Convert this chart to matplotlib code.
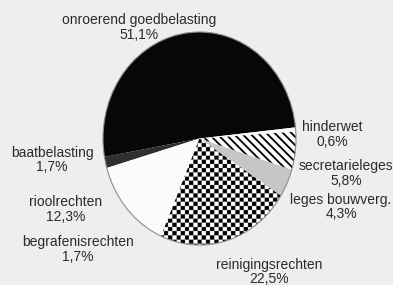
import numpy as np
import matplotlib
matplotlib.use("Agg")
import matplotlib.pyplot as plt
from matplotlib.patches import Circle

# ---- data ----
categories = ["onroerend goedbelasting", "baatbelasting", "rioolrechten",
              "begrafenisrechten", "reinigingsrechten", "leges bouwverg.",
              "secretarieleges", "hinderwet"]
values = [51.1, 1.7, 12.3, 1.7, 22.5, 4.3, 5.8, 0.6]

# ---- styling / layout ----
face_colors = ["#070707", "#2f2f2f", "#fbfbfb", "#fbfbfb", "#fbfbfb",
               "#c6c6c6", "#fbfbfb", "#fbfbfb"]
# label positions in pixels (x centre, y of name line, y of pct line)
label_pos = {
    "onroerend goedbelasting": (139, 20, 35),
    "baatbelasting": (52, 153, 167),
    "rioolrechten": (66, 202, 217),
    "begrafenisrechten": (78, 242, 257),
    "reinigingsrechten": (269, 265, 279),
    "leges bouwverg.": (341, 200, 214),
    "secretarieleges": (346, 166, 181),
    "hinderwet": (332, 127, 142),
}

plt.rcParams["font.family"] = ["Liberation Sans", "DejaVu Sans"]
plt.rcParams["hatch.linewidth"] = 1.3
plt.rcParams["hatch.color"] = "black"

W, H = 393, 285
cx, cy = 199.5, 138.5
rx, ry = 96.5, 106.5
xlim = (-cx / rx, (W - cx) / rx)
ylim = (-(H - cy) / ry, cy / ry)

bg = "#eeeeee"
fig = plt.figure(figsize=(W / 100, H / 100), dpi=100, facecolor=bg)
ax = fig.add_axes([0, 0, 1, 1])
ax.set_facecolor(bg)

wedges, _ = ax.pie(values, colors=face_colors, startangle=6, counterclock=True,
                   wedgeprops=dict(linewidth=0))

# hatched slice
sec = wedges[categories.index("secretarieleges")]
sec.set_edgecolor("black")
sec.set_linewidth(0)
sec.set_hatch("\\\\\\\\")

# checkerboard slice
rein = wedges[categories.index("reinigingsrechten")]
ss = 3
yy, xx = np.mgrid[0:H * ss, 0:W * ss] / ss
cell = 4.2
checker = (np.floor(xx / cell) + np.floor(yy / cell)) % 2
img = ax.imshow(checker, cmap="gray", vmin=0, vmax=1,
                extent=(xlim[0], xlim[1], ylim[0], ylim[1]), origin="upper",
                interpolation="antialiased", zorder=2)
img.set_clip_path(rein)

# outline of pie
ax.add_patch(Circle((0, 0), 1, fill=False, edgecolor="#8c8c8c", linewidth=0.8, zorder=3))

ax.set_aspect("auto")
ax.set_xlim(xlim)
ax.set_ylim(ylim)
ax.axis("off")

def px2fig(x, y):
    return x / W, 1 - y / H

for name, v in zip(categories, values):
    x, y1, y2 = label_pos[name]
    pct = f"{v:.1f}".replace(".", ",") + "%"
    fx, fy = px2fig(x, y1)
    fig.text(fx, fy, name, ha="center", va="center", fontsize=10, color="#2b2b2b")
    fx, fy = px2fig(x, y2)
    fig.text(fx, fy, pct, ha="center", va="center", fontsize=10, color="#2b2b2b")

fig.savefig("out.png", dpi=100, facecolor=fig.get_facecolor())
